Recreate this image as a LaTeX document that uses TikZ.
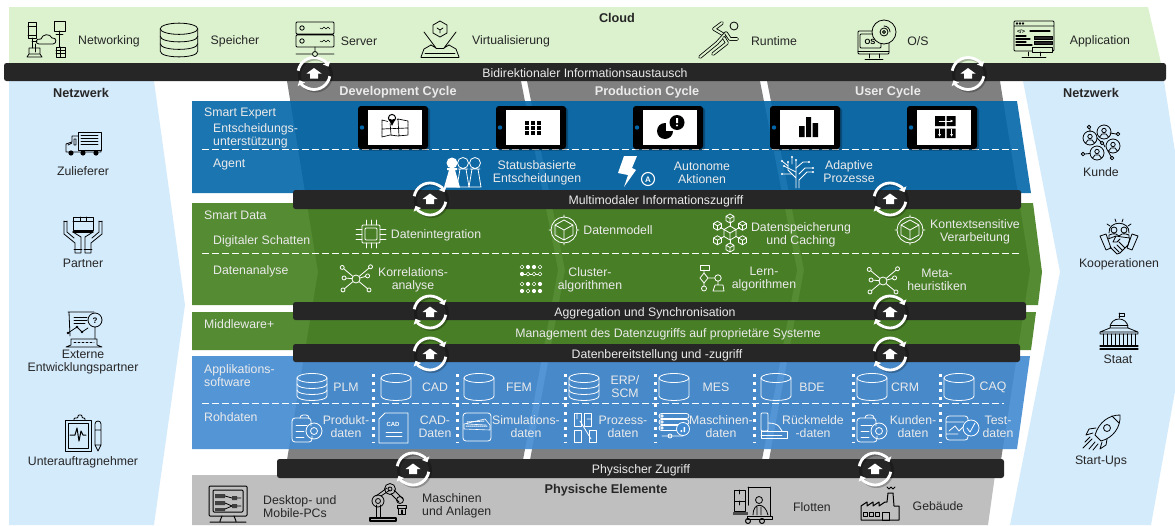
\documentclass[tikz,border=0pt]{standalone}
\usepackage{fontspec}
\setmainfont{Liberation Sans}
\usetikzlibrary{arrows.meta}
\definecolor{cloudgreen}{RGB}{220,242,206}
\definecolor{netblue}{RGB}{212,235,252}
\definecolor{cyclegray}{RGB}{128,128,128}
\definecolor{physgray}{RGB}{191,191,191}
\definecolor{barblack}{RGB}{38,38,38}
\definecolor{expertblue}{RGB}{2,102,169}
\definecolor{datagreen}{RGB}{66,126,29}
\definecolor{appblue}{RGB}{65,138,210}
\tikzset{
  pics/diskstack/.style={code={
    \draw (0,-9) ellipse (15 and 4.5);
    \draw (-15,-9)--(-15,9) .. controls (-15,15) and (15,15) .. (15,9)--(15,-9);
    \draw (-15,-3) .. controls (-15,3) and (15,3) .. (15,-3);
    \draw (-15,3) .. controls (-15,9) and (15,9) .. (15,3);}},
  pics/diskone/.style={code={
    \draw (0,-9) ellipse (15 and 4.5);
    \draw (-15,-9)--(-15,9) .. controls (-15,15) and (15,15) .. (15,9)--(15,-9);}},
  pics/netcloud/.style={code={
    \draw (-19,-17) rectangle (-11,-1) (-19,-13)--(-11,-13) (-19,-4)--(-11,-4);
    \draw (7,-18) rectangle (18,-8) (12.5,-8)--(12.5,8) (9,-5)--(16,-5);
    \draw (-8,5) .. controls (-12,5) and (-12,-1) .. (-6,0) .. controls (-5,-5) and (3,-6) .. (5,-1) .. controls (10,-2) and (10,5) .. (6,5) -- cycle;
    \draw (-15,-1)--(-15,9) (-15,2)--(-10,2) (-12,13)--(-12,5);
    \draw (-18,9) rectangle (-7,15) (-20,18)--(-5,18)--(-7,15) (-20,18)--(-18,15);
    \draw (9,8) rectangle (18,18) (9,11)--(18,11) (9,14)--(18,14) (13.5,8)--(13.5,18);}},
  pics/rackserver/.style={code={
    \draw[rounded corners=1] (-19,-18) rectangle (19,-6) (-19,-5) rectangle (19,7);
    \draw (-13,-12) circle (2.2) (-13,1) circle (2.2);
    \draw[line width=.5pt] (5,-12)--(7,-11)--(9,-13)--(11,-11)--(13,-13)--(15,-11) (5,1)--(7,2)--(9,0)--(11,2)--(13,0)--(15,2);
    \draw (0,7)--(0,12) (-19,14)--(-3,14) (3,14)--(19,14) (0,14) circle (2.5);}},
  pics/vrcube/.style={code={
    \draw (0,-19)--(7,-15)--(7,-7)--(0,-3)--(-7,-7)--(-7,-15)--cycle;
    \draw (-3,-12)--(0,-10)--(3,-12) (0,-10)--(0,-7);
    \draw (-16,-8)--(-4,8) (16,-8)--(4,8) (-9,5)--(-4,8) (9,5)--(4,8);
    \draw (-19,17)--(-16,9)--(-9,5) (19,17)--(16,9)--(9,5);
    \draw (-19,17)--(19,17) (-15,13)--(15,13) (-4,8)--(4,8);}},
  pics/runner/.style={code={
    \draw (16,-15) circle (4);
    \draw[double=cloudgreen,double distance=2pt,line width=.8pt] (8,-5)--(-4,-12)--(4,-18);
    \draw[double=cloudgreen,double distance=2pt,line width=.8pt] (8,-8)--(-1,2)--(-18,16);
    \draw[double=cloudgreen,double distance=2pt,line width=.8pt] (6,-3)--(9,2)--(-5,13);
    \draw[double=cloudgreen,double distance=2pt,line width=.8pt] (8,-8)--(12,-2)--(19,-2);}},
  pics/osdisk/.style={code={
    \draw[rounded corners=1] (-19,-10) rectangle (12,13) (-17,-7) rectangle (4,7);
    \draw (-19,10)--(12,10) (-8,13)--(-8,17) (2,13)--(2,17) (-12,18)--(6,18);
    \node[font=\fontsize{7.5}{8}\selectfont\bfseries,inner sep=0] (osmark) at (-7,0) {OS};
    \draw[fill=cloudgreen] (7,-9) circle (12) (7,-9) circle (4) (7,-9) circle (1.5);
    \draw (7,-15) arc[start angle=270,end angle=360,radius=6];}},
  pics/appscreen/.style={code={
    \draw[rounded corners=1] (-20,-18) rectangle (20,12) (-20,-13)--(20,-13);
    \foreach \px in {-17,-14,-11} {\draw (\px,-15.5) circle (.9);}
    \node[font=\fontsize{5.5}{6}\selectfont\bfseries,inner sep=0] (codemark) at (-13,-8) {</>};
    \draw[line width=1.2pt] (-4,-8)--(16,-8) (-18,-3)--(-8,-3) (-18,0)--(-4,0) (-18,3)--(-8,3) (-18,6)--(-2,6);
    \draw[fill=barblack] (0,-3) rectangle (18,0) (0,2) rectangle (18,5);
    \draw[fill=cloudgreen] (-2,8) rectangle (18,13);
    \draw (-6,13)--(-6,17) (6,13)--(6,17) (-12,18)--(12,18);}},
  pics/truck/.style={code={
    \draw (-5,-11) rectangle (18,7);
    \draw[line width=.9pt] (-2,-8)--(15,-8) (-2,-5)--(15,-5) (-2,-2)--(15,-2) (-2,1)--(15,1);
    \draw (-5,-7)--(-11,-7) (-11,-7)--(-11,-1)--(-17,1)--(-17,9)--(18,9)--(18,7);
    \draw (-9,-4) rectangle (-7,2) (-15,2)--(-11,0);
    \fill (-12,10) circle (2.6) (0,10) circle (2.6) (13,10) circle (2.6);}},
  pics/handsbox/.style={code={
    \draw (-10,-18) rectangle (10,-5) (-10,-14)--(10,-14) (-3,-18)--(-3,-14) (3,-18)--(3,-14);
    \draw[line width=1.2pt] (-10,-3)--(10,-3);
    \draw (-19,-14)--(-19,-1)--(-8,8)--(-8,18)--(-2,18)--(-2,2)--(-10,-3) (-16,-14)--(-16,-3)--(-9,3);
    \draw (19,-14)--(19,-1)--(8,8)--(8,18)--(2,18)--(2,2)--(10,-3) (16,-14)--(16,-3)--(9,3);
    \draw (-19,-14)--(-16,-14) (19,-14)--(16,-14) (-9,14)--(-1,14) (9,14)--(1,14);}},
  pics/reportglass/.style={code={
    \draw (-16,-17)--(10,-17) (-15,-17)--(-14,7);
    \draw[line width=.9pt] (-10,-12)--(3,-12) (-10,-9)--(3,-9) (-10,-6)--(1,-6);
    \draw (11,-9) circle (7) (11,-2)--(11,10);
    \node[font=\fontsize{8}{9}\selectfont\bfseries,inner sep=0] (helpmark) at (11,-9) {?};
    \draw (-16,4)--(-7,-2)--(-2,3)--(4,-1);
    \fill (-16,4) circle (1.3) (-7,-2) circle (1.3) (-2,3) circle (1.3);
    \draw (-13,10)--(13,10) (-13,10)--(-13,16)--(-18,18)--(18,18)--(13,16)--(13,10);
    \draw[dash pattern=on 2pt off 2pt] (-10,13)--(10,13);}},
  pics/clipecg/.style={code={
    \draw (-18,-13) rectangle (8,18) (-15,-10) rectangle (5,15);
    \draw[rounded corners=1] (-9,-13)--(-9,-15)--(-5,-15)--(-5,-18)--(-1,-18)--(-1,-15)--(2,-15)--(2,-13);
    \draw[line width=1pt] (-13,2)--(-8,2)--(-6,-5)--(-4,8)--(-2,-2)--(0,2)--(3,2);
    \draw (12,-9)--(12,12)--(15,18)--(18,12)--(18,-9) .. controls (18,-13) and (12,-13) .. (12,-9) (12,-3)--(18,-3) (12,12)--(18,12);}},
  pics/peoplenet/.style={code={
    \draw (-12,-15) circle (1.8) (-11,-13.2)--(-11,-10) (17,-8) circle (1.8) (9,-9)--(15.2,-8) (-18,12) circle (1.8) (-16.2,12)--(-11,11.5) (1,1) circle (1.8) (11,16) circle (1.8) (7,9)--(10,14.5) (-4,-4)--(0,0) (4,5)--(2.5,2);
    \foreach \cx/\cy in {3/-10,-11/-4,12/4,-4/11} {
      \draw (\cx,\cy) circle (7) (\cx,\cy-1.5) circle (2.2) (\cx-4,\cy+4.5)--(\cx-2,\cy+2)--(\cx+2,\cy+2)--(\cx+4,\cy+4.5);}}},
  pics/handshake/.style={code={
    \draw (-10,-3) .. controls (-11,-16) and (11,-16) .. (10,-3);
    \draw (-4,-17)--(-3,-14) (4,-17)--(3,-14) (-12,-12)--(-9,-10) (12,-12)--(9,-10);
    \draw (-5,-6) circle (3) (5,-6) circle (3) (-10,2)--(-10,-1)--(-7,-2)--(-3,-2)--(0,0)--(3,-2)--(7,-2)--(10,-1)--(10,2);
    \draw (-19,0)--(-13,-2)--(-8,12)--(-13,14)--cycle (19,0)--(13,-2)--(8,12)--(13,14)--cycle;
    \draw (-11,3)--(-3,0)--(3,1)--(11,2)--(9,9)--(1,17)--(-2,18)--(-9,11) (-3,0)--(-6,6)--(-2,6)--(1,3) (0,6)--(6,12) (-2,9)--(3,14) (-5,11)--(0,16);}},
  pics/capitol/.style={code={
    \draw (0,-18)--(0,-13) (0,-18)--(5,-18)--(5,-15)--(0,-15);
    \draw (-9,-3) .. controls (-9,-15) and (9,-15) .. (9,-3) -- cycle;
    \draw (-9,-6)--(9,-6);
    \draw (-19,1)--(-9,-3) (19,1)--(9,-3) (-19,1)--(19,1)--(19,3)--(-19,3)--cycle;
    \foreach \px in {-16,-12,-8,-4,0,4,8,12,16} {\draw (\px,3)--(\px,15);}
    \draw[line width=1.2pt] (-19,15)--(19,15) (-19,18)--(19,18);}},
  pics/rocket/.style={code={
    \draw (19,-18) .. controls (8,-18) and (-2,-11) .. (-6,2)--(0,8) .. controls (12,5) and (20,-6) .. (19,-18)--cycle;
    \draw (6,-5) circle (3.5) (11,-17)--(18,-10);
    \draw (-5,-5)--(-12,-4)--(-15,2)--(-8,0) (6,6)--(5,12)--(-1,16)--(1,9);
    \draw (-9,6)--(-18,15) (-6,9)--(-12,16) (-11,4)--(-16,9) (-3,11)--(-8,17);}},
  pics/pawns/.style={code={
    \foreach \px in {-2,10} {
      \draw (\px,-9) circle (5.5) (\px-5,-3)--(\px+5,-3) (\px-3,-3)--(\px-6,15)--(\px+6,15)--(\px+3,-3);}
    \fill[white] (-13,-9) circle (5.5) (-18,-4) rectangle (-8,-2) (-16,-2)--(-21,15.5)--(-5,15.5)--(-10,-2)--cycle;}},
  pics/bolt/.style={code={
    \fill (-6,-16)--(7,-16)--(2,-4)--(6,-2)--(-6,15)--(-2,3)--(-12,1)--cycle;
    \draw[line width=1.1pt] (18,7) circle (6.5);
    \node[font=\fontsize{8}{9}\selectfont\bfseries,inner sep=0] (autoa) at (18,7) {A};}},
  pics/circuittree/.style={code={
    \draw (-1,16)--(-1,6)--(-9,-2)--(-9,-10) (-1,6)--(-1,-12) (2,16)--(2,8)--(10,0)--(16,0);
    \draw (-1,0)--(-13,-6) (-1,-4)--(6,-10)--(12,-10) (2,2)--(8,-4)--(16,-4) (-5,2)--(-15,2) (-9,-6)--(-15,-11) (-5,-8)--(-5,-15);
    \fill (-13,-6) circle (1.2) (-9,-10) circle (1.2) (-1,-12) circle (1.2) (12,-10) circle (1.2) (16,0) circle (1.2) (16,-4) circle (1.2) (-15,2) circle (1.2) (-15,-11) circle (1.2) (-5,-15) circle (1.2);}},
  pics/chipic/.style={code={
    \draw[rounded corners=1] (-9,-9) rectangle (9,9) (-6,-6) rectangle (6,6);
    \foreach \pp in {-5,0,5} {\draw (\pp,-14)--(\pp,-9) (\pp,9)--(\pp,14) (-15,\pp)--(-9,\pp) (9,\pp)--(15,\pp);}}},
  pics/cubecirc/.style={code={
    \draw (0,0) circle (13) (0,-15)--(0,-13) (0,13)--(0,15) (-15,0)--(-13,0) (13,0)--(15,0);
    \draw (0,-10)--(9,-5)--(9,5)--(0,10)--(-9,5)--(-9,-5)--cycle (-9,-5)--(0,0)--(9,-5) (0,0)--(0,10);}},
  pics/hexcube/.style={code={
    \foreach \a in {30,90,150,210,270,330} {
      \draw (\a:7)--(\a:11);
      \begin{scope}[shift={(\a:14.5)}]
      \draw (0,-4.5)--(4,-2.2)--(4,2.2)--(0,4.5)--(-4,2.2)--(-4,-2.2)--cycle (-4,-2.2)--(0,0)--(4,-2.2) (0,0)--(0,4.5);
      \end{scope}}
    \draw (0,-7)--(6,-3.5)--(6,3.5)--(0,7)--(-6,3.5)--(-6,-3.5)--cycle (-6,-3.5)--(0,0)--(6,-3.5) (0,0)--(0,7);}},
  pics/hubnet/.style={code={
    \draw (0,0) circle (4);
    \foreach \a/\r in {40/15,140/15,220/16,320/17,185/10,345/10} {
      \draw (\a:4)--(\a:\r) (\a:\r+2) circle (2);}}},
  pics/clusterdots/.style={code={
    \foreach \px/\py in {-6/-12,0/-12,-12/-5,-6/5,6/5,-12/12,6/12,0/12} {\fill (\px,\py) circle (2.1);}
    \foreach \px/\py in {-12/-12,6/-12,0/-5,-6/-5,6/-5,-12/5,0/5,-6/12} {\draw[line width=.5pt] (\px,\py) circle (1.9);}
    \draw[line width=.5pt] (-10,-5)--(-8,-5) (-4,-5)--(-2,-5) (2,-5)--(4,-5);}},
  pics/flowic/.style={code={
    \draw (-12,-13) rectangle (-3,-8);
    \draw (-8,-8)--(-8,-5) (-8,-5)--(-4,0)--(-8,5)--(-12,0)--cycle (-4,0)--(3,0) (6,0) circle (3.2);
    \draw (-8,5)--(-8,8) (-8,10.5) circle (2.5) (6,3)--(6,7) (1,13)--(3,7)--(11,7)--(12,13)--cycle;}},
  pics/docdisc/.style={code={
    \draw[rounded corners=3] (2,-10)--(2,-13)--(-7,-13)--(-7,-10);
    \draw[rounded corners=3] (4,-2)--(4,-10)--(-15,-10)--(-15,14)--(5,14)--(5,8);
    \draw (-11,-3)--(0,-3) (-11,3)--(-3,3) (-11,9)--(-3,9);
    \draw (7,3) circle (8) (7,3) circle (3.5);}},
  pics/cadfile/.style={code={
    \draw (-8,-15)--(15,-15)--(15,15)--(-14,15)--(-14,-9)--cycle;
    \node[font=\fontsize{6}{7}\selectfont\bfseries,inner sep=0] (cadmark) at (0,-5) {CAD};
    \draw (-7,4)--(9,4) (-7,8)--(9,8);}},
  pics/simfile/.style={code={
    \draw[rounded corners=3] (-14,-14) rectangle (14,14);
    \draw[line width=.6pt] (-13,2)--(-13,-3)--(8,-8)--(13,-2)--(13,3)--cycle (-10,-3)--(9,-2);
    \draw[dash pattern=on 1pt off 1pt,line width=1pt] (-11,-1)--(10,-1) (-10,-5)--(7,-6);}},
  pics/processic/.style={code={
    \draw (-11,-14) rectangle (-4,-1) (-1,-14) rectangle (6,-1) (-11,3) rectangle (-4,15) (4,3) rectangle (11,15);
    \draw (-5,-6)--(6,12) (-8,-14)--(-8,-8) (2,-8)--(6,-8);}},
  pics/machdata/.style={code={
    \foreach \py in {-11,-5,1} {\draw[rounded corners=2.5] (-15,\py-2.5) rectangle (15,\py+2.5); \draw (-12,\py) circle (1.3);}
    \draw[fill=appblue] (9,2) circle (6.5);
    \fill (6.5,3) rectangle (8,5) (9.5,0) rectangle (11,5);
    \draw (-12,9)--(9,9) (-4,9) circle (2);}},
  pics/feedback/.style={code={
    \draw[rounded corners=1] (-13,-13) rectangle (-6,5);
    \draw (-6,-3) .. controls (6,-3) and (6,3) .. (8,5);
    \draw (-13,5)--(13,5)--(13,12)--(-13,12)--cycle (-13,9)--(8,9);}},
  pics/testchart/.style={code={
    \draw[rounded corners=3] (-16,-12) rectangle (6,12) (-16,-6)--(2,-6) (-16,6)--(-4,6);
    \draw (-13,3)--(-7,-2)--(-3,3)--(3,-3);
    \draw[fill=appblue] (9,0) circle (8);
    \draw (5,0)--(8,4)--(13,-5);}},
  pics/tablet/.style={code={
    \fill[black,opacity=.25,rounded corners=3] (-34,-20) rectangle (37,23);
    \fill[black,rounded corners=3] (-35,-21.5) rectangle (35,21.5);
    \fill[white] (-25,-18) rectangle (29,17.5);
    \fill[expertblue] (-31,0) circle (2.2);}},
  pics/mapsym/.style={code={
    \draw[line width=.7pt,dash pattern=on 3pt off .7pt] (-13,-6)--(-5,-4)--(3,-7)--(13,-5)--(13,9)--(3,10)--(-5,9)--(-13,11)--cycle (-5,-4)--(-4,9) (3,-7)--(4,10) (-13,3)--(13,2);
    \fill[white] (-3,-7) circle (5);
    \draw[line width=1pt] (-3,-8) circle (3.6);
    \fill (-6.4,-7)--(.4,-7)--(-3,0)--cycle;
    \fill[white] (-3,-8) circle (1.8);}},
  pics/gridsym/.style={code={
    \foreach \px in {-6,0,6} {\foreach \py in {-5,0,5} {\fill (\px-2.4,\py-2.1) rectangle (\px+2.4,\py+2.1);}}}},
  pics/piesym/.style={code={
    \fill (-7,3) circle (8);
    \fill[white] (5,-5.5) circle (9.5);
    \fill[white] (-6,-6) rectangle (4,3);
    \fill (5,-5.5) circle (7.5);
    \fill[white] (4,-10) rectangle (6,-5) (5,-2.5) circle (1.1);}},
  pics/barsym/.style={code={
    \fill (-9.5,-2) rectangle (-4,9) (-2.5,-11) rectangle (2.5,9) (4,-5) rectangle (9.5,9);}},
  pics/schemasym/.style={code={
    \fill (-10.5,-11) rectangle (-.5,-1) (1,-11) rectangle (10,-1) (-10.5,1.5) rectangle (-.5,11) (1,1.5) rectangle (10,11);
    \draw[line width=.6pt] (-7,-6)--(8,-6);
    \draw[white,line width=.7pt,-{Latex[length=3pt,width=3pt]}] (-7,-6)--(8,-6);
    \draw[white,line width=.7pt,-{Latex[length=3pt,width=3pt]}] (-6,2)--(-6,10);
    \draw[white,line width=.7pt,-{Latex[length=3pt,width=3pt]}] (6,2)--(6,10);}},
  pics/desktopic/.style={code={
    \draw[line width=1pt,rounded corners=1] (-19,-18) rectangle (19,12) (-15,-14) rectangle (15,8);
    \draw[line width=1pt] (-6,12)--(-8,17) (6,12)--(8,17) (-18,18)--(18,18);
    \fill[black!75] (-13,-10) rectangle (-3,-6) (-13,-3) rectangle (-3,1) (-13,4) rectangle (-3,7) (4,-8) rectangle (9,-4) (4,0) rectangle (9,4);
    \draw (-3,-8)--(4,-6) (-3,-1)--(4,2) (-3,5)--(4,2) (9,-6)--(13,-6) (9,2)--(13,2);}},
  pics/robotarm/.style={code={
    \draw[line width=1.2pt] (-19,15) rectangle (7,18);
    \draw (-13,15)--(-13,2) (-9,15)--(-9,2);
    \draw (-11,-2) circle (6) (-11,-2) circle (2.5);
    \draw (-13,-7)--(-2,-15) (-8,-7)--(1,-13);
    \draw (1,-14) circle (5.5) (1,-14) circle (2);
    \draw (5,-13)--(14,-4) (2,-9)--(10,-1);
    \draw (11,-3) circle (3.5);
    \draw (8,2) rectangle (17,5) (9,5)--(9,11)--(12,11) (16,5)--(16,11)--(13,11) (12,11)--(12,7) (13,11)--(13,7);}},
  pics/forklift/.style={code={
    \draw[line width=1pt] (17,-18)--(17,11) (-5,-18)--(17,-18) (-5,-18)--(-5,0);
    \draw (-19,-15) rectangle (-8,-4) (-19,-4) rectangle (-8,6) (-14,-15)--(-14,-11) (-14,-4)--(-14,0);
    \fill[black!70] (-20,7) rectangle (-5,10);
    \draw (6,-5) circle (3.5) (0,10) .. controls (0,-3) and (12,-3) .. (15,10) (4,2)--(4,10) (8,2)--(8,10);
    \draw[line width=1pt] (-6,11)--(19,11)--(19,14)--(-6,14)--cycle;
    \draw[line width=1pt] (-5,16) circle (2.5) (9,16) circle (2.5);}},
  pics/factoryic/.style={code={
    \draw[line width=1pt] (-19,16)--(-19,2)--(-13,-2)--(-13,2)--(-7,-2)--(-7,2)--(-1,-2)--(-1,2)--(5,-2)--(7,-2)--(8,-11)--(13,-11)--(14,2)--(19,2)--(19,16)--cycle;
    \draw[line width=1pt] (-17,8) rectangle (-13,12) (-11,8) rectangle (-7,12) (-5,8) rectangle (-1,12) (2,8) rectangle (9,16);
    \draw (7,-17)--(9,-15)--(11,-17)--(13,-15)--(15,-17);}},
  pics/syncring/.style={code={
    \draw[black,opacity=.25,line width=3pt] (1.5,1.5) circle (16);
    \draw[white,line width=2.8pt,-{Triangle[length=4.5pt,width=8pt]}] (190:16) arc[start angle=190,end angle=335,radius=16];
    \draw[white,line width=2.8pt,-{Triangle[length=4.5pt,width=8pt]}] (10:16) arc[start angle=10,end angle=155,radius=16];
    \fill[white] (-7.5,0)--(0,-5.5)--(7.5,0)--(4,0)--(4,5)--(-4,5)--(-4,0)--cycle;}}
}
\begin{document}
\begin{tikzpicture}[x=1pt, y=-1pt, every node/.style={inner sep=0, yshift=-1pt},
    lbl/.style={font=\fontsize{12.3}{13}\selectfont, align=center, text=black!85},
    wlbl/.style={lbl, text=white!92!black},
    lay/.style={wlbl, anchor=west, align=left},
    hdl/.style={lbl, font=\fontsize{12.7}{13}\selectfont\bfseries},
    blk/.style={black, line width=.8pt, line join=round, line cap=round},
    wht/.style={white, line width=.8pt, line join=round, line cap=round},
    sepdash/.style={white, line width=.9pt, dash pattern=on 7pt off 3pt},
    sepdots/.style={white, line width=3pt, dash pattern=on 3pt off 4.5pt},
    databar/.style={fill=barblack, rounded corners=2.5pt}]
  \useasboundingbox (0,0) rectangle (1175,525);

  % netzwerk and cycles
  \fill[netblue] (9,81)--(154,81)--(185,305)--(154,525)--(9,525)--cycle;
  \fill[netblue] (1023,81)--(1164,81)--(1195,280)--(1151,525)--(1010,525)--(1060,272)--cycle;
  \fill[cyclegray] (287,81)--(521,81)--(558,270)--(523,460)--(287,460)--(318,272)--cycle;
  \fill[cyclegray] (527,81)--(760,81)--(797,270)--(762,460)--(530,460)--(565,270)--cycle;
  \fill[cyclegray] (767,81)--(1000,81)--(1030,270)--(1001,460)--(769,460)--(804,270)--cycle;

  % layers
  \fill[cloudgreen] (9,7)--(1148,7)--(1161,63)--(9,63)--cycle;
  \fill[expertblue, opacity=.9] (192,101)--(1017,101)--(1031,193)--(192,193)--cycle;
  \fill[datagreen, opacity=.9] (192,203)--(1033,203)--(1042,272)--(1038,305)--(192,305)--cycle;
  \fill[datagreen, opacity=.9] (192,312)--(1036,312)--(1031,350)--(192,350)--cycle;
  \fill[appblue, opacity=.9] (192,356)--(1030,356)--(1017,449)--(192,449)--cycle;
  \fill[physgray] (192,475)--(995,475)--(988,525)--(192,525)--cycle;

  \draw[sepdash] (202,149)--(1018,149);
  \draw[sepdash] (202,253)--(1020,253);
  \draw[sepdash] (202,403)--(1004,403);
  \foreach \dx in {373,457,565,655,754,853,940} {\draw[sepdots] (\dx,374)--(\dx,442);}

  % bars
  \fill[databar] (4,63) rectangle (1166,81);
  \fill[databar] (293,190) rectangle (1021,209);
  \fill[databar] (293,302) rectangle (1026,320);
  \fill[databar] (293,344) rectangle (1020,362);
  \fill[databar] (277,459) rectangle (1004,478);
  \foreach \rx/\ry in {314/72.5,968/72.5,430/198,890/198,430/311,890/311,430/353,890/353,413/468,875/468} {\pic at (\rx,\ry) {syncring};}

  \node[hdl] (cloud) at (617,17) {Cloud};
  \node[lbl] (networking) at (109,40) {Networking};
  \node[lbl] (speicher) at (235,40) {Speicher};
  \node[lbl] (server) at (359,40) {Server};
  \node[lbl] (virtual) at (511,40) {Virtualisierung};
  \node[lbl] (runtime) at (774,40) {Runtime};
  \node[lbl] (os) at (918,40) {O/S};
  \node[lbl] (application) at (1100,40) {Application};
  \node[wlbl] (bidi) at (585,72) {Bidirektionaler Informationsaustausch};

  \node[hdl] (netzl) at (81,92) {Netzwerk};
  \node[hdl] (netzr) at (1091,92) {Netzwerk};
  \node[hdl, text=white!92!black] (devcycle) at (398,91) {Development Cycle};
  \node[hdl, text=white!92!black] (prodcycle) at (647,91.5) {Production Cycle};
  \node[hdl, text=white!92!black] (usercycle) at (888,91) {User Cycle};

  \node[lbl] (zulieferer) at (83,170) {Zulieferer};
  \node[lbl] (partner) at (83,262) {Partner};
  \node[lbl] (extern) at (83,361.5) {Externe\\Entwicklungspartner};
  \node[lbl] (unterauftrag) at (83,461) {Unterauftragnehmer};
  \node[lbl] (kunde) at (1101,171) {Kunde};
  \node[lbl] (kooperation) at (1119,263) {Kooperationen};
  \node[lbl] (staat) at (1118,358) {Staat};
  \node[lbl] (startups) at (1101,460) {Start-Ups};

  \node[lay] (expert) at (204,112) {Smart Expert};
  \node[lay] (entscheid) at (213,134.5) {Entscheidungs-\\unterstützung};
  \node[lay] (agent) at (213,164) {Agent};
  \node[lay] (smartdata) at (204,214) {Smart Data};
  \node[lay] (schatten) at (213,240) {Digitaler Schatten};
  \node[lay] (analyse) at (213,270) {Datenanalyse};
  \node[lay] (middleware) at (204,323) {Middleware+};
  \node[lay] (appsoft) at (204,374.5) {Applikations-\\software};
  \node[lay] (rohdaten) at (204,416) {Rohdaten};

  \node[wlbl] (status) at (537,171.5) {Statusbasierte\\Entscheidungen};
  \node[wlbl] (autonom) at (702,172) {Autonome\\Aktionen};
  \node[wlbl] (adaptiv) at (849,171) {Adaptive\\Prozesse};
  \node[wlbl] (integration) at (436,234) {Datenintegration};
  \node[wlbl] (modell) at (618,229) {Datenmodell};
  \node[wlbl] (caching) at (801,233.5) {Datenspeicherung\\und Caching};
  \node[wlbl] (kontext) at (975,231) {Kontextsensitive\\Verarbeitung};
  \node[wlbl] (korrelation) at (413,278.5) {Korrelations-\\analyse};
  \node[wlbl] (cluster) at (590,278.5) {Cluster-\\algorithmen};
  \node[wlbl] (lern) at (764,278.5) {Lern-\\algorithmen};
  \node[wlbl] (meta) at (937,279) {Meta-\\heuristiken};

  \node[wlbl] (multimodal) at (656,200) {Multimodaler Informationszugriff};
  \node[wlbl] (aggregation) at (645,312) {Aggregation und Synchronisation};
  \node[wlbl] (management) at (668,333) {Management des Datenzugriffs auf proprietäre Systeme};
  \node[wlbl] (bereitstellung) at (657,354) {Datenbereitstellung und -zugriff};
  \node[wlbl] (physzugriff) at (641,469) {Physischer Zugriff};

  \node[wlbl] (plm) at (346,386) {PLM};
  \node[wlbl] (cad) at (435,386) {CAD};
  \node[wlbl] (fem) at (519,386) {FEM};
  \node[wlbl] (erp) at (625,386) {ERP/\\SCM};
  \node[wlbl] (mes) at (716,386) {MES};
  \node[wlbl] (bde) at (812,386) {BDE};
  \node[wlbl] (crm) at (905,386) {CRM};
  \node[wlbl] (caq) at (993,386) {CAQ};
  \node[wlbl] (produkt) at (346,425.5) {Produkt-\\daten};
  \node[wlbl] (caddaten) at (435,425.5) {CAD-\\Daten};
  \node[wlbl] (simulation) at (526,425.5) {Simulations-\\daten};
  \node[wlbl] (prozess) at (623,425.5) {Prozess-\\daten};
  \node[wlbl] (maschinen) at (721,425.5) {Maschinen-\\daten};
  \node[wlbl] (rueckmelde) at (813,425.5) {Rückmelde\\-daten};
  \node[wlbl] (kunden) at (913,425.5) {Kunden-\\daten};
  \node[wlbl] (test) at (998,425.5) {Test-\\daten};

  \node[hdl] (physisch) at (606,489) {Physische Elemente};
  \node[lbl, anchor=west, align=left] (desktop) at (263,505.5) {Desktop- und\\Mobile-PCs};
  \node[lbl, anchor=west, align=left] (anlagen) at (422,504.5) {Maschinen\\und Anlagen};
  \node[lbl] (flotten) at (812,506) {Flotten};
  \node[lbl] (gebaeude) at (938,505) {Gebäude};

  % icons
  \pic[blk] at (47,38) {netcloud};
  \pic[blk, scale=1.25] at (179,39) {diskstack};
  \pic[blk] at (315,39) {rackserver};
  \pic[blk] at (440,39) {vrcube};
  \pic[blk] at (718,40) {runner};
  \pic[blk] at (877,40) {osdisk};
  \pic[blk] at (1034,38) {appscreen};
  \pic[blk] at (83,142) {truck};
  \pic[blk] at (83,234) {handsbox};
  \pic[blk] at (84,328) {reportglass};
  \pic[blk] at (83,432) {clipecg};
  \pic[blk] at (1101,141) {peoplenet};
  \pic[blk] at (1119,235) {handshake};
  \pic[blk] at (1119,330) {capitol};
  \pic[blk] at (1101,432) {rocket};

  \foreach \tx in {393,531,668,805,942} {\pic at (\tx,126.5) {tablet};}
  \pic[blk, line width=.7pt] at (395,125) {mapsym};
  \pic[black] at (533,127) {gridsym};
  \pic[black] at (672,127) {piesym};
  \pic[black] at (808.5,127) {barsym};
  \pic[black] at (945.5,126) {schemasym};

  \pic[wht] at (465,171) {pawns};
  \pic[wht] at (630,171) {bolt};
  \pic[wht] at (797,171) {circuittree};
  \pic[wht] at (371,233) {chipic};
  \pic[wht] at (564,229) {cubecirc};
  \pic[wht] at (730,232) {hexcube};
  \pic[wht] at (910,229) {cubecirc};
  \pic[wht] at (356,278) {hubnet};
  \pic[wht] at (534,278) {clusterdots};
  \pic[wht] at (712,277) {flowic};
  \pic[wht] at (883,280) {hubnet};

  \foreach \cx/\kind in {312/diskstack,396/diskone,479/diskone,584/diskstack,674/diskone,776/diskone,872/diskone,959/diskone} {\pic[wht] at (\cx,386) {\kind};}
  \pic[wht] at (307,427) {docdisc};
  \pic[wht] at (393,427) {cadfile};
  \pic[wht] at (477,426) {simfile};
  \pic[wht] at (585,426) {processic};
  \pic[wht] at (674,426) {machdata};
  \pic[wht] at (774,425) {feedback};
  \pic[wht] at (872,427) {docdisc};
  \pic[wht] at (962,427) {testchart};

  \pic[blk] at (228,503) {desktopic};
  \pic[blk] at (389,502) {robotarm};
  \pic[blk] at (753,504) {forklift};
  \pic[blk] at (880,503) {factoryic};
\end{tikzpicture}
\end{document}
